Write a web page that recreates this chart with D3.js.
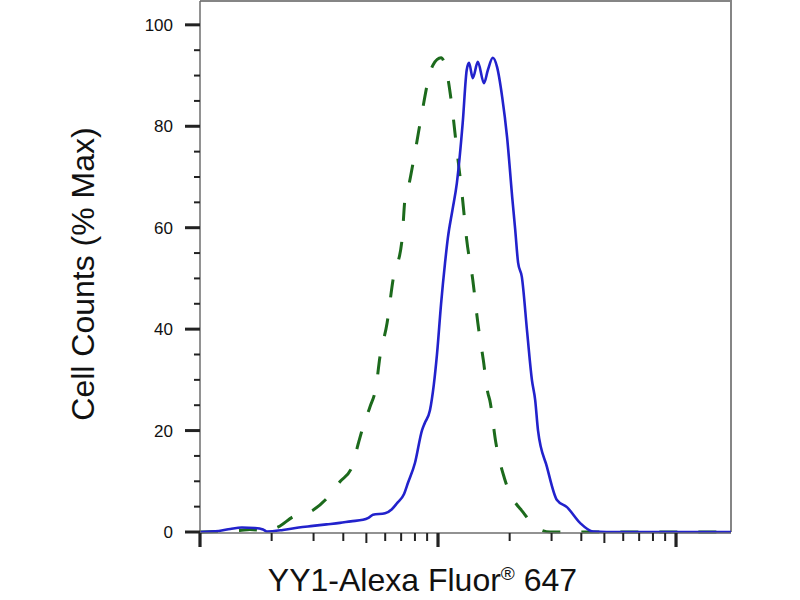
<!DOCTYPE html>
<html>
<head>
<meta charset="utf-8">
<script src="https://cdn.jsdelivr.net/npm/d3@7"></script>
<style>
body{margin:0;background:#fff;}
svg{display:block;font-family:"Liberation Sans",Arial,sans-serif;}
</style>
</head>
<body>
<div id="chart"></div>
<script>
// histogram values (fluorescence channel, % of max)
var blueX=[10,12,13.4,15,17,18.4,19.1,22.3,26,29.8,34,38.7,43,48.4,51,53.3,59.9,64,67.3,72,74.8,80,85.7,88,92.5,96,99,103,107,110,115,120,127,132,135,140,147,156,162,170,177,186,195,205,211,217,225,237,248,256,263,287,316,348,395,448,582,1702];
var blueY=[0,0.2,0.6,0.9,0.8,0.5,0.1,0.4,0.9,1.2,1.5,1.8,2.1,2.4,2.8,3.4,3.7,4.5,5.7,7.5,9.7,13.6,20.1,21.5,24,29,35,45,53,58,63.5,68.8,80.7,91.1,92.5,89.5,92.7,88.5,91.1,93.5,91.7,85.8,77.9,66,59.6,53.1,50.3,39.3,30,26,20.1,12.8,6.3,4.9,1.8,0.1,0,0];

var greenX=[10,14.7,16.2,18.4,21.3,24.6,29.8,34.2,38.7,43.5,46.1,48.4,51.8,54.9,57,61.1,64.7,70.6,72.6,74.1,80,85.7,92.5,95.3,103,109,114.5,120,126,132,140,147,155,162,165,175,191,232,256,296,1702];
var greenY=[0,0.3,0.5,0.3,1,3,4.3,6.7,9.9,12.8,17.2,20.7,24.7,28.6,34.5,41.2,49.7,57.6,65.5,66.9,74.8,82.8,90.5,92.1,93.5,90.5,83.8,75.3,66.9,57.6,49.7,41.2,33.9,27.4,26,17.6,10.3,3.4,1,0,0];

var xDomain=[10,1702];
var xMajor=[10,100,1000];
var yMajor=[0,20,40,60,80,100];
var yMinorStep=5;
var yTop=104.7;

var xTitle="YY1-Alexa Fluor";
var xTitleSup="\u00AE";
var xTitleEnd=" 647";
var yTitle="Cell Counts (% Max)";

var W=800,H=600;
var L=200,R=731,T=1,B=532;

var svg=d3.select('#chart').append('svg').attr('width',W).attr('height',H);

var x=d3.scaleLog().domain(xDomain).range([L,R]);
var y=d3.scaleLinear().domain([0,yTop]).range([B,T]);

// frame: top and right grey border
svg.append('path')
	.attr('d','M'+L+','+T+'H'+R+'V'+B)
	.attr('fill','none').attr('stroke','#858585').attr('stroke-width',2);

// curves
var line=function(xs,ys){
	return d3.line().curve(d3.curveMonotoneX)
		.x(function(d){return x(d);})
		.y(function(d,i){return y(ys[i]);})(xs);
};
svg.append('path').attr('d',line(greenX,greenY))
	.attr('fill','none').attr('stroke','#1c6a1c').attr('stroke-width',3)
	.attr('stroke-dasharray','18,21');
svg.append('path').attr('d',line(blueX,blueY))
	.attr('fill','none').attr('stroke','#2222cc').attr('stroke-width',2.6)
	.attr('stroke-linejoin','round');

// y axis
var yMinor=d3.range(0,yTop,yMinorStep).filter(function(v){return yMajor.indexOf(v)<0;});
var ya=svg.append('g');
ya.append('line').attr('x1',L).attr('x2',L).attr('y1',T).attr('y2',B)
	.attr('stroke','#6e6e6e').attr('stroke-width',1.5);
ya.selectAll('.ymin').data(yMinor).enter().append('line')
	.attr('x1',L-6).attr('x2',L).attr('y1',y).attr('y2',y)
	.attr('stroke','#222').attr('stroke-width',2);
ya.selectAll('.ymaj').data(yMajor).enter().append('line')
	.attr('x1',L-15).attr('x2',L).attr('y1',y).attr('y2',y)
	.attr('stroke','#222').attr('stroke-width',3);
ya.selectAll('text').data(yMajor).enter().append('text')
	.attr('x',L-27).attr('y',function(d){return y(d)+6;})
	.attr('text-anchor','end').attr('font-size',17).attr('fill','#111')
	.text(function(d){return d;});

// x axis (log)
var xMinor=x.ticks().filter(function(v){return xMajor.indexOf(v)<0;});
var xa=svg.append('g');
xa.append('line').attr('x1',L).attr('x2',R).attr('y1',B+1).attr('y2',B+1)
	.attr('stroke','#6e6e6e').attr('stroke-width',1.5);
xa.selectAll('.xmin').data(xMinor).enter().append('line')
	.attr('x1',x).attr('x2',x).attr('y1',B+1)
	.attr('y2',function(d){var m=d/Math.pow(10,Math.floor(Math.log10(d)+1e-9));return B+(Math.abs(m-5)<1e-6?11:9);})
	.attr('stroke','#222').attr('stroke-width',2);
xa.selectAll('.xmaj').data(xMajor).enter().append('line')
	.attr('x1',x).attr('x2',x).attr('y1',B+1).attr('y2',B+15)
	.attr('stroke','#222').attr('stroke-width',3.2);

// titles
var xt=svg.append('text').attr('x',(L+R)/2-43).attr('y',591)
	.attr('text-anchor','middle').attr('font-size',32).attr('fill','#111');
xt.append('tspan').text(xTitle);
xt.append('tspan').attr('font-size',19).attr('dy',-11).text(xTitleSup);
xt.append('tspan').attr('dy',11).text(xTitleEnd);

svg.append('text').attr('transform','translate(94,274) rotate(-90)')
	.attr('text-anchor','middle').attr('font-size',32).attr('fill','#111')
	.text(yTitle);
</script>
</body>
</html>
